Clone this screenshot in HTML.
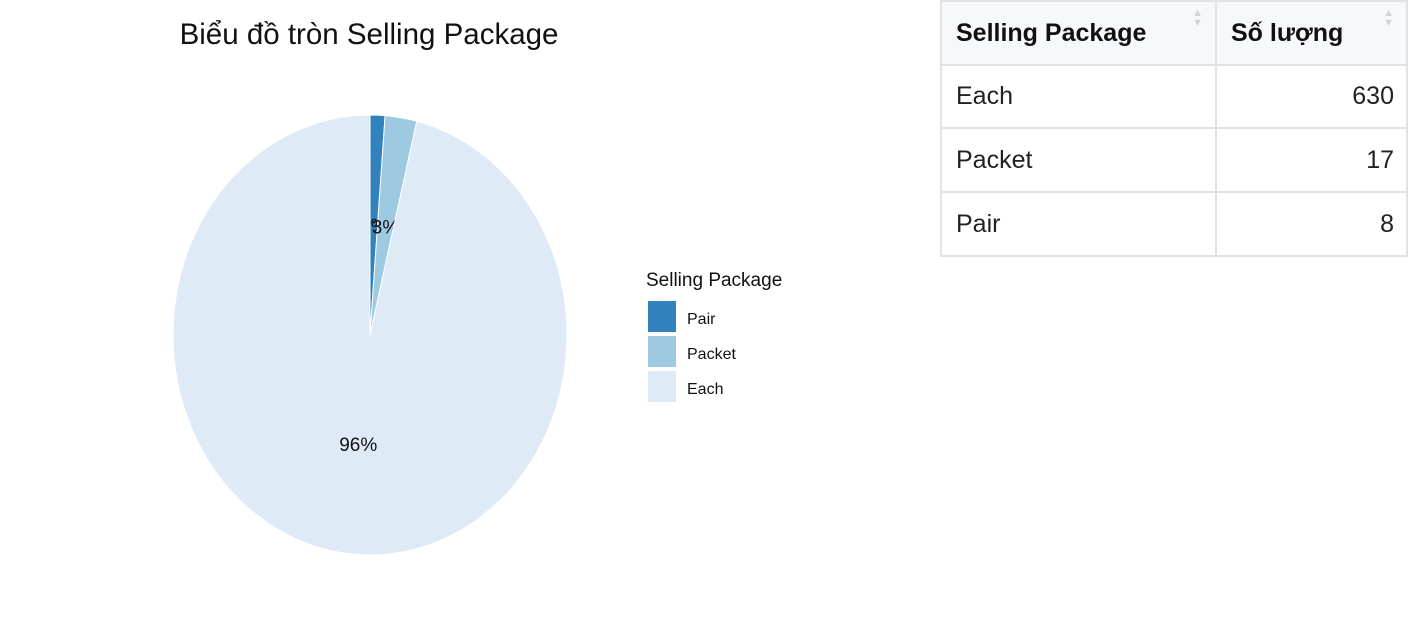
<!DOCTYPE html>
<html><head><meta charset="utf-8"><style>
body{margin:0;width:1411px;height:628px;background:#fff;overflow:hidden;position:relative;font-family:"Liberation Sans",sans-serif}
table{position:absolute;left:940px;top:0;border-collapse:collapse;table-layout:fixed;width:466px;font-family:"Liberation Sans",sans-serif;font-size:25px;color:#222}
td,th{border:2px solid #dfe3e6;height:60px;padding:0 12px 0 14px;position:relative;box-sizing:border-box}
th{background:#f6f8fb;text-align:left;font-weight:bold;color:#111;font-size:25px}
.sort{position:absolute;right:12px;top:6px;color:#d0d4d8;font-size:11px;line-height:10px}
td.n{text-align:right}
</style></head><body>
<svg width="930" height="628" style="position:absolute;left:0;top:0">
<text x="369" y="44" text-anchor="middle" font-size="29.5" font-family="Liberation Sans" fill="#111">Biểu đồ tròn Selling Package</text>
<g id="pie"></g>
<text x="646" y="286" font-size="19" fill="#111">Selling Package</text>
<g id="legend"></g>
</svg>
<table>
<colgroup><col style="width:275px"><col style="width:191px"></colgroup>
<tr><th style="height:64px">Selling Package<span class="sort">▲<br>▼</span></th><th style="height:64px">Số lượng<span class="sort">▲<br>▼</span></th></tr>
<tr><td style="height:63px">Each</td><td class="n">630</td></tr>
<tr><td style="height:64px">Packet</td><td class="n">17</td></tr>
<tr><td style="height:64px">Pair</td><td class="n">8</td></tr>
</table>
<script>
const categories=["Pair","Packet","Each"];
const values=[8,17,630];
const colors=["#3182bd","#9ecae1","#deebf7"];
const labels=["1%","3%","96%"];
const cx=370,cy=335,rx=197,ry=220;
const total=values.reduce((a,b)=>a+b,0);
const ns="http://www.w3.org/2000/svg";
const pie=document.getElementById('pie'),leg=document.getElementById('legend');
function pt(f,r){const a=f*2*Math.PI;return [cx+rx*r*Math.sin(a),cy-ry*r*Math.cos(a)];}
let acc=0;
values.forEach((v,i)=>{
 const f0=acc/total,f1=(acc+v)/total;acc+=v;
 const p0=pt(f0,1),p1=pt(f1,1);
 const path=document.createElementNS(ns,'path');
 path.setAttribute('d',`M${cx},${cy}L${p0[0]},${p0[1]}A${rx},${ry} 0 ${f1-f0>0.5?1:0} 1 ${p1[0]},${p1[1]}Z`);
 path.setAttribute('fill',colors[i]);path.setAttribute('stroke','#fff');path.setAttribute('stroke-width','1');
 
 
 pie.appendChild(path);
 const lp=pt((f0+f1)/2,0.5);
 const t=document.createElementNS(ns,'text');
 t.setAttribute('x',lp[0]);t.setAttribute('y',lp[1]+7);t.setAttribute('text-anchor','middle');t.setAttribute('font-size','19');t.setAttribute('fill','#111');
 t.textContent=labels[i];
 
 
 pie.appendChild(t);
 const r=document.createElementNS(ns,'rect');
 r.setAttribute('x',648);r.setAttribute('y',301+i*35);r.setAttribute('width',28);r.setAttribute('height',31);r.setAttribute('fill',colors[i]);
 
 
 leg.appendChild(r);
 const lt=document.createElementNS(ns,'text');
 lt.setAttribute('x',687);lt.setAttribute('y',324+i*35);lt.setAttribute('font-size','16');lt.setAttribute('fill','#111');
 lt.textContent=categories[i];
 
 
 leg.appendChild(lt);
});
</script>
</body></html>
